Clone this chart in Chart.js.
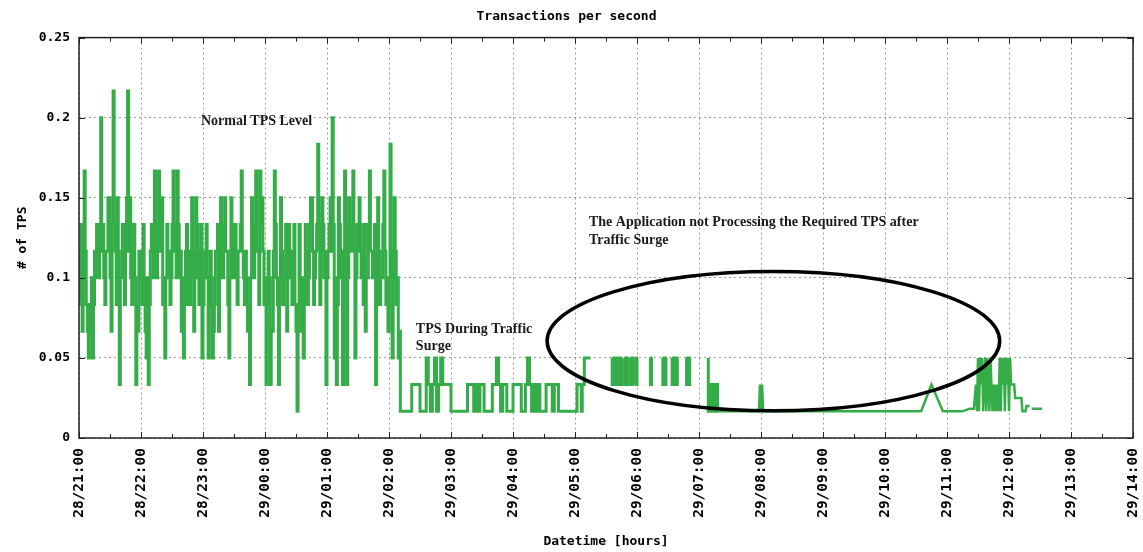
<!DOCTYPE html>
<html>
<head>
<meta charset="utf-8">
<title>Transactions per second</title>
<script src="https://cdn.jsdelivr.net/npm/chart.js@4/dist/chart.umd.min.js"></script>
<style>
  html, body { margin: 0; padding: 0; background: #fff; }
  #wrap { width: 1143px; height: 552px; position: relative; }
</style>
</head>
<body>
<div id="wrap"><canvas id="tps"></canvas></div>
<script>
// Hour ticks along the time axis (minutes counted from 28/21:00)
const hourLabels = [
  '28/21:00', '28/22:00', '28/23:00', '29/00:00', '29/01:00', '29/02:00',
  '29/03:00', '29/04:00', '29/05:00', '29/06:00', '29/07:00', '29/08:00',
  '29/09:00', '29/10:00', '29/11:00', '29/12:00', '29/13:00', '29/14:00'
];
const yTickLabels = ['0', '0.05', '0.1', '0.15', '0.2', '0.25'];

// Transactions per minute, one sample per minute from 28/21:00 (normal load)
const normalStart = 0;
const normalStep = 1;
const normalCounts = [
  7, 5, 6, 8, 4, 6, 10, 7, 5, 4, 3, 5, 4, 6, 3, 5, 7, 6, 8, 6,
  6, 8, 12, 7, 8, 6, 5, 7, 7, 9, 9, 6, 4, 8, 13, 8, 7, 5, 9, 7,
  2, 6, 6, 8, 8, 5, 7, 9, 13, 7, 9, 6, 5, 7, 8, 6, 2, 5, 4, 7,
  7, 6, 5, 8, 6, 4, 3, 6, 2, 5, 7, 8, 8, 6, 10, 7, 6, 8, 10, 7,
  7, 9, 5, 6, 3, 6, 8, 6, 7, 5, 6, 8, 10, 7, 8, 6, 10, 8, 6, 7,
  4, 6, 3, 5, 7, 8, 5, 7, 5, 6, 9, 7, 4, 6, 9, 8, 6, 5, 7, 8,
  3, 5, 6, 7, 8, 6, 3, 5, 7, 6, 3, 4, 5, 7, 7, 8, 4, 6, 9, 7,
  6, 8, 9, 7, 7, 5, 3, 6, 9, 8, 6, 7, 8, 6, 5, 7, 7, 8, 10, 7,
  6, 5, 7, 6, 4, 5, 2, 6, 9, 7, 6, 8, 10, 7, 7, 5, 10, 8, 9, 7,
  5, 6, 2, 5, 7, 6, 2, 4, 4, 7, 10, 8, 6, 5, 2, 6, 9, 7, 5, 6,
  6, 8, 4, 6, 8, 7, 6, 5, 7, 8, 5, 4, 1, 5, 8, 6, 4, 6, 3, 5,
  8, 7, 5, 6, 8, 9, 9, 7, 5, 6, 7, 8, 11, 8, 5, 7, 9, 8, 6, 7,
  2, 6, 7, 8, 9, 7, 12, 8, 3, 6, 2, 5, 9, 8, 6, 7, 2, 6, 10, 8,
  2, 6, 9, 7, 7, 8, 10, 7, 3, 6, 8, 7, 9, 8, 6, 7, 5, 8, 4, 6,
  6, 8, 10, 7, 7, 6, 6, 8, 2, 5, 9, 7, 5, 6, 6, 8, 10, 7, 5, 6,
  4, 6, 11, 7, 3, 6, 9, 7, 5, 6, 3, 4
];

// Transactions per minute, every 2 minutes from 29/02:12 (during the surge)
const surgeStart = 312;
const surgeStep = 2;
const surgeCounts = [
  1, 1, 1, 1, 1, 1, 2, 2, 2, 2, 1, 1, 1,
  3, 2, 1, 2, 3, 1, 2, 3, 2, 2, 2, 2,
  1, 1, 1, 1, 1, 1, 1, 1, 2, 2, 2, 1, 2, 1, 2, 2,
  1, 1, 1, 1, 2, 2, 3, 2, 1, 2, 2, 1, 1, 1,
  2, 2, 2, 2, 1, 1, 2, 3, 2, 1, 2, 1, 2, 1, 1, 1,
  2, 2, 2, 1, 2, 2, 1, 1, 1, 1, 1, 1, 1, 1
];

// Stuck period: minute offsets and counts (null = no samples)
const stuckMinutes = [
  482, 484, 486, 487, 489, 491, 493, 495, 496,
  516, 517, 518, 519, 520, 521, 522, 523, 524, 525, 526, 527,
  528, 529, 530, 531, 532, 533, 534, 535, 536, 537, 538,
  539, 540, 541, 542,
  553, 554, 555, 556,
  565, 566, 567, 568, 569, 570,
  574, 575, 576, 577, 578, 579, 580, 581,
  588, 589, 590, 591, 592, 593,
  609, 610, 611, 612, 614, 616, 618, 620
];
const stuckCounts = [
  1, 2, 2, 1, 2, 3, 3, 3, null,
  3, 2, 3, 2, 3, 2, 3, 2, 3, 2, 3, null,
  3, 2, 3, 2, 3, null, 3, 2, 3, 2, null,
  3, 2, 3, null,
  3, 2, 3, null,
  3, 2, 3, 2, 3, null,
  3, 2, 3, 2, 3, 2, 3, null,
  3, 2, 3, 2, 3, null,
  3, 1, 2, 1, 2, 1, 2, 1
];

// Late morning: minute offsets and counts
const idleMinutes = [
  620, 658, 659, 660, 661, 662, 815, 825, 836, 855, 862, 866,
  868, 869, 870, 871, 872, 873, 874, 875, 876, 877, 878, 879,
  880, 881, 882, 883, 884, 885, 886, 887, 888, 889, 890, 891,
  892, 893, 894, 895, 896, 897, 898, 899, 900, 901, 902, 903,
  905, 906, 912, 913, 916, 917, 920, 921, 922, 932
];
const idleCounts = [
  1, 1, 2, 1, 2, 1, 1, 2, 1, 1, 1.1, 1.1,
  2, 1, 3, 1, 3, 2, 3, 1, 2, 3, 1, 3,
  2, 1, 3, 2, 1, 2, 1, 2, 1, 2, 1, 3,
  1, 3, 2, 3, 1, 3, 2, 3, 1, 3, 2, 2,
  2, 1.5, 1.5, 1, 1, 1.2, 1.2, null, 1.1, 1.1
];

// Per-minute counts -> per-second rate
const toTps = c => (c === null ? null : c / 60);
const sampledPoints = [];
normalCounts.forEach((c, i) => sampledPoints.push({ x: normalStart + i * normalStep, y: toTps(c) }));
surgeCounts.forEach((c, i) => sampledPoints.push({ x: surgeStart + i * surgeStep, y: toTps(c) }));
stuckMinutes.forEach((m, i) => sampledPoints.push({ x: m, y: toTps(stuckCounts[i]) }));
const idlePoints = idleMinutes.map((m, i) => ({ x: m, y: toTps(idleCounts[i]) }));

const monoFont = "'DejaVu Sans Mono', 'Liberation Mono', monospace";
const serifFont = "'Liberation Serif', 'DejaVu Serif', serif";
const lineGreen = '#34ad48';

// Frame, inward tick marks, highlight ellipse and callouts
const decorations = {
  id: 'decorations',
  afterDatasetsDraw(chart) {
    const { ctx, chartArea: a, scales: { x, y } } = chart;
    ctx.save();

    // frame
    ctx.strokeStyle = '#222';
    ctx.lineWidth = 1.5;
    ctx.strokeRect(a.left, a.top, a.right - a.left, a.bottom - a.top);

    // inward ticks: every half hour on top/bottom, every 0.05 on the sides
    ctx.lineWidth = 1;
    ctx.beginPath();
    for (let m = 0; m <= 1020; m += 30) {
      const px = Math.round(x.getPixelForValue(m)) + 0.5;
      const len = m % 60 === 0 ? 6 : 4;
      ctx.moveTo(px, a.bottom); ctx.lineTo(px, a.bottom - len);
      ctx.moveTo(px, a.top); ctx.lineTo(px, a.top + len);
    }
    for (let v = 0; v <= 0.25001; v += 0.05) {
      const py = Math.round(y.getPixelForValue(v)) + 0.5;
      ctx.moveTo(a.left, py); ctx.lineTo(a.left + 6, py);
      ctx.moveTo(a.right, py); ctx.lineTo(a.right - 6, py);
    }
    ctx.stroke();

    // ellipse around the stalled period
    const cx = x.getPixelForValue(672);
    const cy = y.getPixelForValue(0.0605);
    const rx = x.getPixelForValue(672 + 219) - cx;
    const ry = cy - y.getPixelForValue(0.0605 + 0.0435);
    ctx.beginPath();
    ctx.ellipse(cx, cy, rx, ry, 0, 0, Math.PI * 2);
    ctx.strokeStyle = '#000';
    ctx.lineWidth = 3.5;
    ctx.stroke();

    // callouts
    ctx.fillStyle = '#1a1a1a';
    ctx.font = 'bold 14px ' + serifFont;
    ctx.textAlign = 'left';
    ctx.textBaseline = 'middle';
    const say = (txt, m, v) => ctx.fillText(txt, x.getPixelForValue(m), y.getPixelForValue(v));
    say('Normal TPS Level', 118, 0.1975);
    say('TPS During Traffic', 326, 0.0681);
    say('Surge', 326, 0.0569);
    say('The Application not Processing the Required TPS after', 493.5, 0.1344);
    say('Traffic Surge', 493.5, 0.1231);
    ctx.restore();
  }
};

new Chart(document.getElementById('tps'), {
  type: 'line',
  data: {
    datasets: [{
      label: 'TPS',
      data: sampledPoints,
      borderColor: lineGreen,
      borderWidth: 3,
      pointRadius: 0,
      stepped: 'after',
      spanGaps: false,
      fill: false
    }, {
      label: 'TPS (sparse)',
      data: idlePoints,
      borderColor: lineGreen,
      borderWidth: 2.5,
      pointRadius: 0,
      tension: 0,
      spanGaps: false,
      fill: false
    }]
  },
  options: {
    responsive: true,
    maintainAspectRatio: false,
    animation: false,
    devicePixelRatio: 1,
    layout: { padding: { left: 0, right: 10, top: 0, bottom: 0 } },
    plugins: {
      legend: { display: false },
      tooltip: { enabled: false },
      title: {
        display: true,
        text: 'Transactions per second',
        color: '#000',
        font: { family: monoFont, size: 13, weight: 'bold' },
        padding: { top: 9, bottom: 13 }
      }
    },
    scales: {
      x: {
        type: 'linear',
        min: 0,
        max: 1020,
        afterFit(scale) {
          scale.height = 114;
          scale.paddingLeft = 0;
          scale.paddingRight = 0;
        },
        ticks: {
          stepSize: 60,
          autoSkip: false,
          maxRotation: 90,
          minRotation: 90,
          padding: 10,
          color: '#000',
          font: { family: monoFont, size: 14.5, weight: 'bold' },
          callback: (v, i) => hourLabels[i]
        },
        grid: { color: 'rgba(140,140,140,0.85)', lineWidth: 1, drawTicks: false },
        border: { display: false, dash: [2, 3] },
        title: {
          display: true,
          text: 'Datetime [hours]',
          color: '#000',
          font: { family: monoFont, size: 13, weight: 'bold' },
          padding: { top: 0, bottom: 3 }
        }
      },
      y: {
        min: 0,
        max: 0.25,
        afterFit(scale) { scale.width = 79; },
        ticks: {
          stepSize: 0.05,
          padding: 9,
          color: '#000',
          font: { family: monoFont, size: 13, weight: 'bold' },
          callback: (v, i) => yTickLabels[i]
        },
        grid: { color: 'rgba(140,140,140,0.85)', lineWidth: 1, drawTicks: false },
        border: { display: false, dash: [2, 3] },
        title: {
          display: true,
          text: '# of TPS',
          color: '#000',
          font: { family: monoFont, size: 13, weight: 'bold' },
          padding: { top: 15, bottom: 0 }
        }
      }
    }
  },
  plugins: [decorations]
});
</script>
</body>
</html>
